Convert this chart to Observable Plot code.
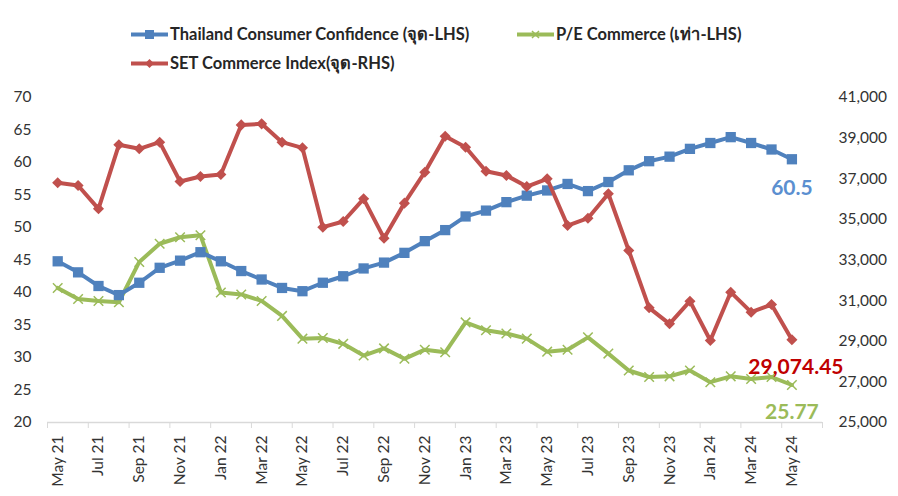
<!DOCTYPE html>
<html>
<head>
<meta charset="utf-8">
<script src="https://cdn.jsdelivr.net/npm/d3@7"></script>
<script src="https://cdn.jsdelivr.net/npm/@observablehq/plot@0.6"></script>
<style>
  html, body { margin: 0; padding: 0; background: #fff; }
  #wrap { position: relative; width: 898px; height: 496px; font-family: Lato, "Open Sans", "Noto Sans", sans-serif; }
  .leg { position: absolute; display: flex; align-items: center; font-size: 16.5px; font-weight: 700; color: #262626; white-space: nowrap; }
  .leg svg { margin-right: 2px; }
</style>
</head>
<body>
<div id="wrap"></div>
<script>
const months = ["May 21","Jun 21","Jul 21","Aug 21","Sep 21","Oct 21","Nov 21","Dec 21",
  "Jan 22","Feb 22","Mar 22","Apr 22","May 22","Jun 22","Jul 22","Aug 22","Sep 22","Oct 22","Nov 22","Dec 22",
  "Jan 23","Feb 23","Mar 23","Apr 23","May 23","Jun 23","Jul 23","Aug 23","Sep 23","Oct 23","Nov 23","Dec 23",
  "Jan 24","Feb 24","Mar 24","Apr 24","May 24"];
const consumerConfidence = [44.8,43.1,41.0,39.6,41.5,43.8,44.9,46.2,44.8,43.3,
  42.0,40.7,40.2,41.5,42.5,43.7,44.6,46.1,47.9,
  49.6,51.7,52.6,53.9,54.9,55.7,56.7,55.6,57.0,58.8,
  60.2,60.9,62.1,63.0,63.9,63.0,62.0,60.5];
const peCommerce = [40.7,39.0,38.7,38.5,44.7,47.5,48.5,48.8,40.0,39.7,
  38.7,36.4,32.9,33.0,32.1,30.3,31.4,29.8,31.2,
  30.8,35.4,34.2,33.7,32.9,30.9,31.2,33.1,30.6,28.0,
  27.0,27.1,28.0,26.2,27.1,26.7,27.0,25.77];
const setCommerce = [36800,36668,35520,38671,38474,38800,36865,37111,37209,39650,
  39703,38800,38523,34615,34894,36013,34074,35800,37322,
  39089,38548,37372,37160,36618,36997,34697,35058,36259,33468,
  30646,29858,30972,29037,31415,30431,30809,29074.45];
const leftTicks = [20,25,30,35,40,45,50,55,60,65,70];
const rightTicks = [25000,27000,29000,31000,33000,35000,37000,39000,41000];
const seriesNames = ["Thailand Consumer Confidence (จุด-LHS)", "P/E Commerce (เท่า-LHS)", "SET Commerce Index(จุด-RHS)"];

const BLUE = "#4f81bd", GREEN = "#9bbb59", RED = "#c0504d";
const LMIN = 20, LMAX = 70, RMIN = 25000, RMAX = 41000;
const toLeft = v => LMIN + (v - RMIN) * (LMAX - LMIN) / (RMAX - RMIN);
const toRight = v => RMIN + (v - LMIN) * (RMAX - RMIN) / (LMAX - LMIN);

const blue = consumerConfidence.map((v, i) => ({i, v}));
const green = peCommerce.map((v, i) => ({i, v}));
const red = setCommerce.map((v, i) => ({i, v: toLeft(v), raw: v}));
const last = months.length - 1;

const evenIdx = months.map((m, i) => i).filter(i => i % 2 === 0);
const bounds = d3.range(-0.5, months.length + 1, 2);

const chart = Plot.plot({
  width: 898, height: 496,
  marginLeft: 47, marginRight: 76, marginTop: 97, marginBottom: 74,
  style: { fontFamily: "Lato, 'Open Sans', sans-serif", fontSize: "15.5px", color: "#333", background: "transparent" },
  x: { type: "linear", domain: [-0.5, months.length + 0.5] },
  y: { domain: [LMIN, LMAX] },
  marks: [
    Plot.axisY({ ticks: leftTicks, tickSize: 0, tickPadding: 16, label: null, fontSize: 15.5 }),
    Plot.axisY({ anchor: "right", ticks: rightTicks.map(toLeft), tickFormat: d => d3.format(",")(Math.round(toRight(d))), tickSize: 0, tickPadding: 16, label: null, fontSize: 15.5 }),
    Plot.ruleY([LMIN], { stroke: "#d9d9d9", strokeWidth: 1.5 }),
    Plot.axisX({ ticks: bounds, tickFormat: () => "", tickSize: 6, stroke: "#d9d9d9", strokeOpacity: 1, label: null }),
    Plot.axisX({ ticks: evenIdx, tickFormat: i => months[i], tickSize: 0, tickPadding: 13, tickRotate: -90, label: null, fontSize: 15.5 }),
    Plot.line(green, { x: "i", y: "v", stroke: GREEN, strokeWidth: 4 }),
    Plot.dot(green, { x: "i", y: "v", symbol: "times", r: 4.4, stroke: GREEN, strokeWidth: 1.5 }),
    Plot.line(blue, { x: "i", y: "v", stroke: BLUE, strokeWidth: 4 }),
    Plot.dot(blue, { x: "i", y: "v", symbol: "square", r: 5.8, fill: BLUE, stroke: "none" }),
    Plot.line(red, { x: "i", y: "v", stroke: RED, strokeWidth: 4 }),
    Plot.dot(red, { x: "i", y: "v", symbol: "diamond2", r: 5, fill: RED, stroke: "none" }),
    Plot.text([blue[last]], { x: "i", y: "v", text: d => d3.format(".1f")(d.v), dy: 29, fill: "#5b8fd0", fontSize: 21, fontWeight: "bold" }),
    Plot.text([red[last]], { x: "i", y: "v", text: d => d3.format(",.2f")(d.raw), dy: 28, dx: 4, fill: "#c00000", fontSize: 21, fontWeight: "bold" }),
    Plot.text([green[last]], { x: "i", y: "v", text: d => String(d.v), dy: 27, fill: GREEN, fontSize: 21, fontWeight: "bold" })
  ]
});
const wrap = document.getElementById("wrap");
chart.style.position = "absolute";
chart.style.left = "0"; chart.style.top = "0";
wrap.appendChild(chart);

function swatch(color, kind) {
  let marker = "";
  if (kind === "square") marker = `<rect x="14" y="5" width="9" height="9" fill="${color}"/>`;
  if (kind === "diamond") marker = `<path d="M18.5 5 L23 9.5 L18.5 14 L14 9.5 Z" fill="${color}"/>`;
  if (kind === "times") marker = `<path d="M15 6 L22 13 M22 6 L15 13" stroke="${color}" stroke-width="1.5"/>`;
  return `<svg width="37" height="19"><line x1="0" y1="9.5" x2="37" y2="9.5" stroke="${color}" stroke-width="4"/>${marker}</svg>`;
}
const legend = [
  { name: seriesNames[0], color: BLUE, kind: "square", left: 131, top: 21 },
  { name: seriesNames[1], color: GREEN, kind: "times", left: 517, top: 21 },
  { name: seriesNames[2], color: RED, kind: "diamond", left: 131, top: 50 }
];
legend.forEach(l => {
  const d = document.createElement("div");
  d.className = "leg";
  d.style.left = l.left + "px"; d.style.top = l.top + "px";
  d.innerHTML = swatch(l.color, l.kind) + `<span>${l.name}</span>`;
  wrap.appendChild(d);
});
</script>
</body>
</html>
